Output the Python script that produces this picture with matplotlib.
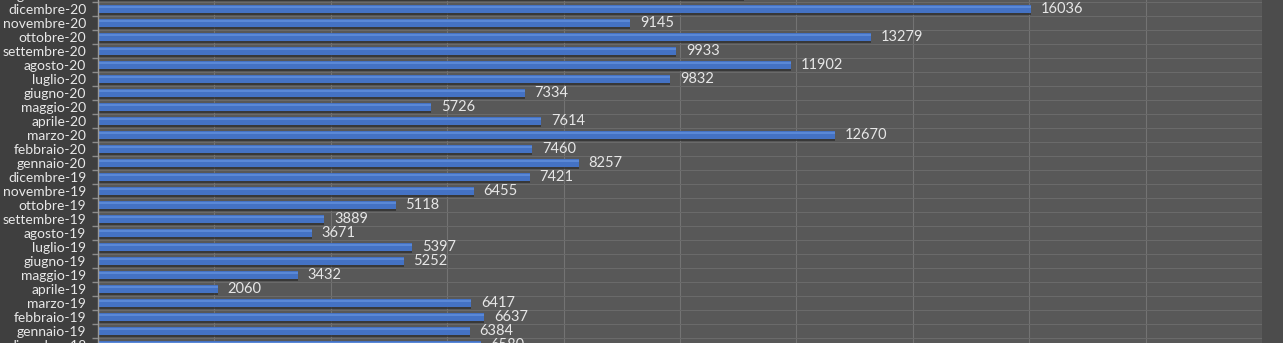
import matplotlib
matplotlib.use("Agg")
import matplotlib.pyplot as plt
from matplotlib.patches import Rectangle
import numpy as np

categories = ["dicembre-18", "gennaio-19", "febbraio-19", "marzo-19", "aprile-19", "maggio-19",
              "giugno-19", "luglio-19", "agosto-19", "settembre-19", "ottobre-19", "novembre-19",
              "dicembre-19", "gennaio-20", "febbraio-20", "marzo-20", "aprile-20", "maggio-20",
              "giugno-20", "luglio-20", "agosto-20", "settembre-20", "ottobre-20", "novembre-20",
              "dicembre-20", "gennaio-21"]
values = [6580, 6384, 6637, 6417, 2060, 3432,
          5252, 5397, 3671, 3889, 5118, 6455,
          7421, 8257, 7460, 12670, 7614, 5726,
          7334, 9832, 11902, 9933, 13279, 9145,
          16036, 11100]

plt.rcParams['font.family'] = ['Lato', 'DejaVu Sans']

W, H = 1283, 343
fig = plt.figure(figsize=(W / 100, H / 100), dpi=100, facecolor="#3f3f3f")
fig.patches.append(Rectangle((1262 / W, 0), 1 - 1262 / W, 1, transform=fig.transFigure,
                             facecolor="#4c4c4c", edgecolor="none", zorder=0))
# axes taller than the figure so the cut-off first and last rows are still drawn
ax = fig.add_axes([98 / W, -9 / H, (1262 - 98) / W, 364 / H])
ax.set_facecolor("#585858")

y = np.arange(len(categories))
# shadow
ax.barh(y - 0.2, values, height=0.5, color="#2e2e2e", alpha=0.75, zorder=2)
bars = ax.barh(y, values, height=0.56, color="#4472c4", zorder=3)
ax.barh(y + 0.17, values, height=0.14, color="#5a88d6", zorder=4)

ax.bar_label(bars, labels=[str(v) for v in values], padding=7, color="#e6e6e6",
             fontsize=10.5, zorder=5)

ax.set_xticks(np.arange(0, 20001, 2000))
ax.tick_params(axis='x', length=0, labelbottom=False)
ax.grid(axis='x', color="#737373", linewidth=0.8, zorder=1)

ax.set_yticks(y)
ax.set_yticklabels(categories, color="#e8e8e8", fontsize=10)
ax.set_yticks(np.arange(-0.5, len(categories), 1.0), minor=True)
ax.tick_params(axis='y', which='major', length=0, pad=8.5)
ax.tick_params(axis='y', which='minor', length=4, width=1, color="#8c8c8c", direction='out')
ax.grid(axis='y', which='minor', color="#6a6a6a", linewidth=0.8, zorder=1)
ax.set_axisbelow(True)

ax.set_xlim(0, 20000)
ax.set_ylim(-0.5, len(categories) - 0.5)

for s in ['top', 'right', 'bottom']:
    ax.spines[s].set_visible(False)
ax.spines['left'].set_color("#9a9a9a")
ax.spines['left'].set_linewidth(1)
ax.spines['left'].set_zorder(6)

fig.savefig("out.png", dpi=100, facecolor=fig.get_facecolor())
